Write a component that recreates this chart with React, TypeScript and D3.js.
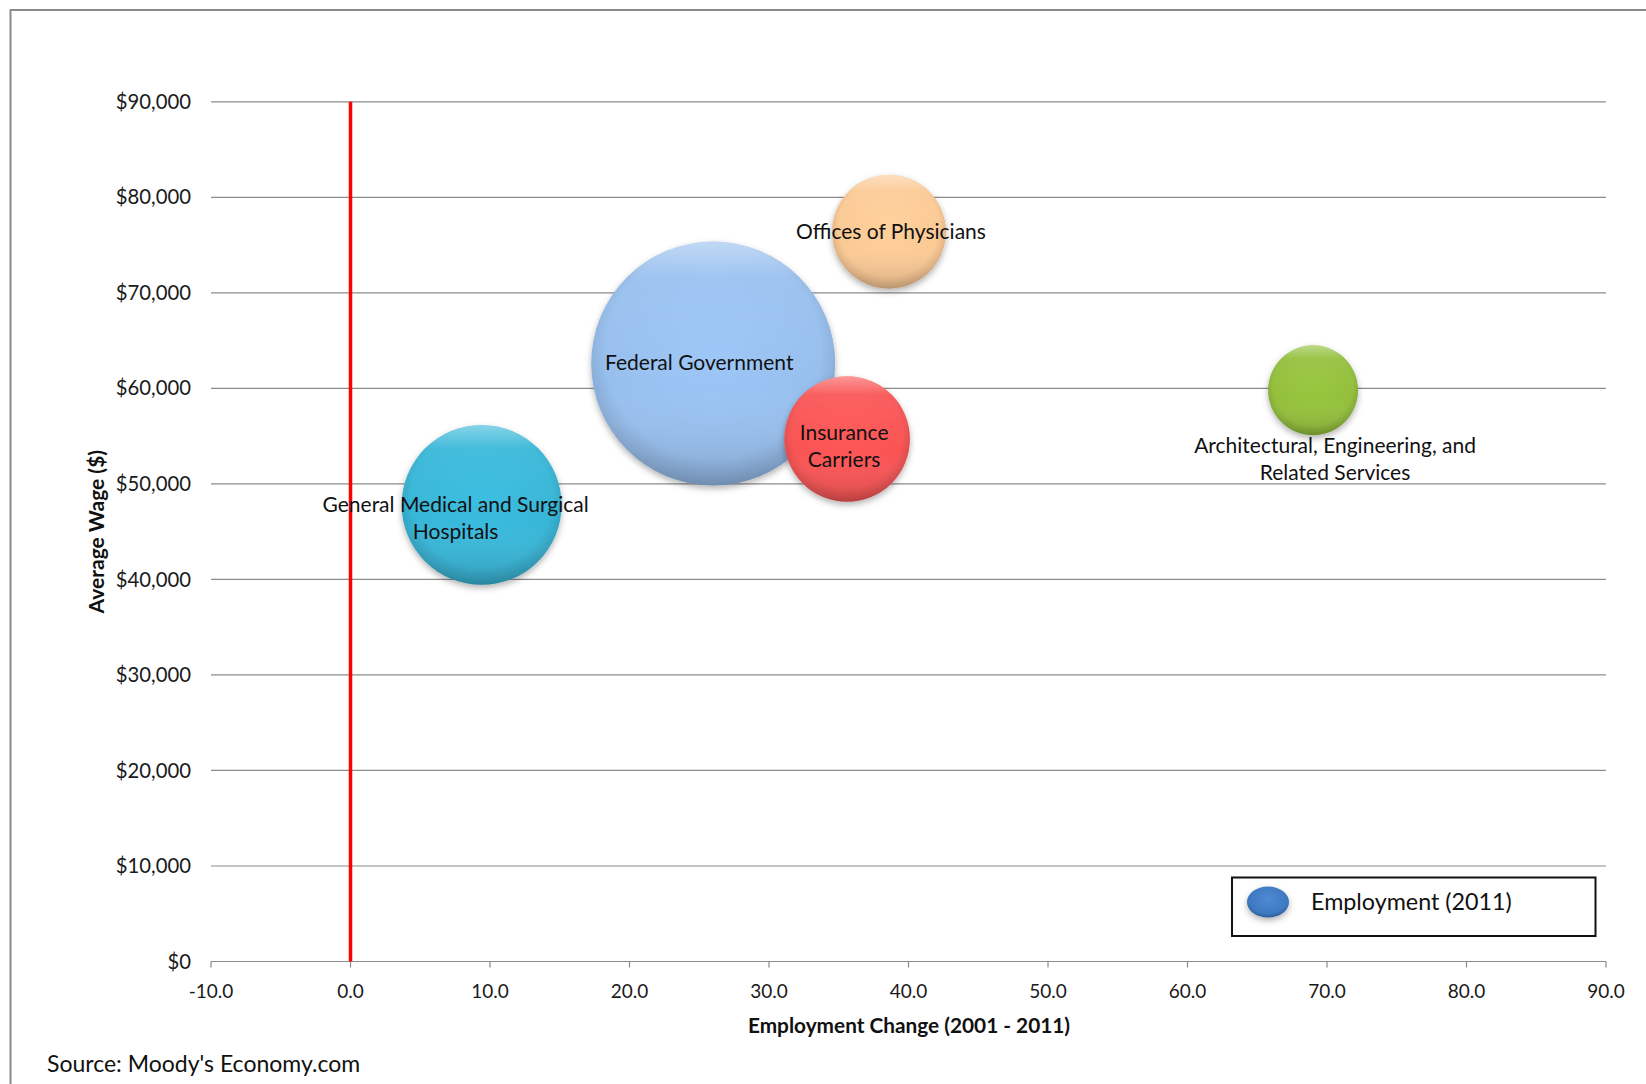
import React from "react";
import * as d3 from "d3";

// ---- data ----
const industries = [
  "General Medical and Surgical Hospitals",
  "Federal Government",
  "Offices of Physicians",
  "Insurance Carriers",
  "Architectural, Engineering, and Related Services",
];
const labelLines = [
  ["General Medical and Surgical", "Hospitals"],
  ["Federal Government"],
  ["Offices of Physicians"],
  ["Insurance", "Carriers"],
  ["Architectural, Engineering, and", "Related Services"],
];
const employmentChange = [9.4, 26.0, 38.6, 35.6, 69.0];
const averageWage = [47800, 62600, 76400, 54700, 59800];
const employment2011 = [12800, 29800, 6500, 7900, 4050];
const xTicks = [-10, 0, 10, 20, 30, 40, 50, 60, 70, 80, 90];
const yTicks = [0, 10000, 20000, 30000, 40000, 50000, 60000, 70000, 80000, 90000];
const seriesName = "Employment (2011)";
const xTitle = "Employment Change (2001 - 2011)";
const yTitle = "Average Wage ($)";
const sourceNote = "Source: Moody's Economy.com";

// ---- styles ----
const colors = ["#37b6d8", "#97bfee", "#fbc994", "#f95454", "#93bf3b"];
const labelOffsets = [
  { dx: -26, dy: 0 },
  { dx: -14, dy: -1 },
  { dx: 2, dy: 0 },
  { dx: -3, dy: -6 },
  { dx: 22, dy: 55 },
];
const FONT = "Lato, 'Open Sans', sans-serif";

export default function App() {
  const W = 1646, H = 1084;
  const left = 211, right = 1606, top = 101.8, bottom = 961.5;
  const x = d3.scaleLinear().domain([-10, 90]).range([left, right]);
  const y = d3.scaleLinear().domain([0, 90000]).range([bottom, top]);
  const r = d3.scaleSqrt().domain([0, d3.max(employment2011) as number]).range([0, 122]);
  const fmtY = (v: number) => "$" + d3.format(",")(v);
  const fmtX = (v: number) => d3.format(".1f")(v).replace("\u2212", "-");

  const bubbles = industries.map((name, i) => ({
    name,
    i,
    cx: x(employmentChange[i]),
    cy: y(averageWage[i]),
    r: r(employment2011[i]),
  }));

  return (
    <svg width={W} height={H} style={{ position: "absolute", left: 0, top: 0, background: "#fff" }} fontFamily={FONT}>
      <defs>
        <filter id="shadow" x="-30%" y="-30%" width="160%" height="160%">
          <feDropShadow dx="0" dy="3" stdDeviation="3" floodColor="#000" floodOpacity="0.3" />
        </filter>
        {colors.map((c, i) => {
          const base = d3.color(c)!;
          return (
            <radialGradient key={i} id={`g${i}`} cx="50%" cy="45%" r="55%">
              <stop offset="0%" stopColor={base.brighter(0.1).formatHex()} />
              <stop offset="80%" stopColor={c} />
              <stop offset="100%" stopColor={base.darker(0.45).formatHex()} />
            </radialGradient>
          );
        })}
        <linearGradient id="hl" x1="0" y1="0" x2="0" y2="1">
          <stop offset="0%" stopColor="#fff" stopOpacity="0.4" />
          <stop offset="15%" stopColor="#fff" stopOpacity="0.06" />
          <stop offset="60%" stopColor="#fff" stopOpacity="0" />
          <stop offset="100%" stopColor="#000" stopOpacity="0.14" />
        </linearGradient>
        <radialGradient id="legG" cx="50%" cy="40%" r="60%">
          <stop offset="0%" stopColor="#4f8ad2" />
          <stop offset="80%" stopColor="#3d78c1" />
          <stop offset="100%" stopColor="#2c5a96" />
        </radialGradient>
      </defs>

      {/* outer border */}
      <rect x={10.5} y={10} width={1700} height={1200} fill="#fff" stroke="#8a8a8a" strokeWidth={2} />

      {/* gridlines */}
      {yTicks.map((t) => (
        <line key={t} x1={left} x2={right} y1={y(t)} y2={y(t)} stroke="#8c8c8c" strokeWidth={1.2} />
      ))}
      {/* x axis ticks */}
      {xTicks.map((t) => (
        <line key={t} x1={x(t)} x2={x(t)} y1={bottom} y2={bottom + 6} stroke="#8c8c8c" strokeWidth={1.2} />
      ))}

      {/* y tick labels */}
      {yTicks.map((t) => (
        <text key={t} x={191} y={y(t)} dy="0.35em" textAnchor="end" fontSize={20.3} fill="#1a1a1a">
          {fmtY(t)}
        </text>
      ))}
      {/* x tick labels */}
      {xTicks.map((t) => (
        <text key={t} x={x(t)} y={991} dy="0.35em" textAnchor="middle" fontSize={19} fill="#1a1a1a">
          {fmtX(t)}
        </text>
      ))}

      {/* red zero line */}
      <line x1={x(0)} x2={x(0)} y1={y(0)} y2={y(90000)} stroke="#ff0000" strokeWidth={3.5} />

      {/* bubbles */}
      {bubbles.map((b) => (
        <g key={b.name} filter="url(#shadow)">
          <circle cx={b.cx} cy={b.cy} r={b.r} fill={`url(#g${b.i})`} />
          <circle cx={b.cx} cy={b.cy} r={b.r} fill="url(#hl)" />
        </g>
      ))}

      {/* labels */}
      {bubbles.map((b) => (
        <text key={b.name} x={b.cx + labelOffsets[b.i].dx} y={b.cy + labelOffsets[b.i].dy} textAnchor="middle" fontSize={21} fill="#111">
          {labelLines[b.i].map((ln, k) => (
            <tspan key={k} x={b.cx + labelOffsets[b.i].dx} dy={k === 0 ? "0.35em" : 27}>
              {ln}
            </tspan>
          ))}
        </text>
      ))}

      {/* axis titles */}
      <text x={909} y={1026} dy="0.35em" textAnchor="middle" fontSize={20.8} fontWeight="bold" fill="#111">
        {xTitle}
      </text>
      <text transform={`translate(96.5, ${(top + bottom) / 2}) rotate(-90)`} dy="0.35em" textAnchor="middle" fontSize={21} fontWeight="bold" fill="#111">
        {yTitle}
      </text>

      {/* legend */}
      <rect x={1232} y={877.5} width={363.5} height={58.5} fill="#fff" stroke="#111" strokeWidth={2} />
      <g filter="url(#shadow)">
        <ellipse cx={1268} cy={902} rx={21} ry={15.5} fill="url(#legG)" />
      </g>
      <text x={1311} y={902} dy="0.35em" fontSize={23.3} fill="#111">
        {seriesName}
      </text>

      {/* source */}
      <text x={47} y={1064} dy="0.35em" fontSize={23} fill="#111">
        {sourceNote}
      </text>
    </svg>
  );
}
